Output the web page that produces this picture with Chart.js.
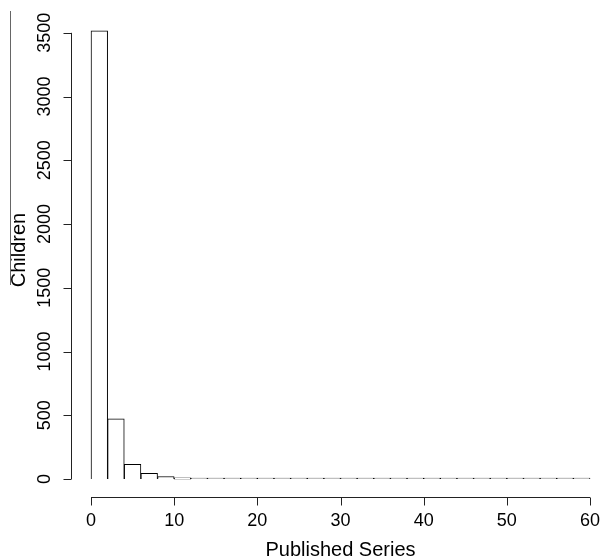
<!DOCTYPE html>
<html>
<head>
<meta charset="utf-8">
<script src="https://cdn.jsdelivr.net/npm/chart.js@4"></script>
<style>
  body { margin: 0; background: #fff; }
  #wrap { width: 603px; height: 559px; }
</style>
</head>
<body>
<div id="wrap"><canvas id="hist-chart" width="603" height="559"></canvas></div>
<script>
// histogram data, bins of width 2 from 0 to 60
const binMids = [1, 3, 5, 7, 9, 11, 13, 15, 17, 19, 21, 23, 25, 27, 29, 31, 33, 35, 37, 39, 41, 43, 45, 47, 49, 51, 53, 55, 57, 59];
const counts = [3515, 473, 115, 45, 20, 10, 6, 5, 2, 2, 4, 1, 1, 4, 1, 1, 5, 1, 1, 1, 1, 1, 1, 1, 1, 1, 3, 1, 1, 1];
const xTicks = [0, 10, 20, 30, 40, 50, 60];
const yTicks = [0, 500, 1000, 1500, 2000, 2500, 3000, 3500];
const xTitle = "Published Series";
const yTitle = "Children";

const fontFam = '"Liberation Sans", Arial, sans-serif';

//R style axes drawn from the chart scales
const rAxes = {
  id: 'rAxes',
  afterDraw(chart) {
    const ctx = chart.ctx;
    const xs = chart.scales.x;
    const ys = chart.scales.y;
    const area = chart.chartArea;
    ctx.save();
    ctx.strokeStyle = '#222';
    ctx.fillStyle = '#000';
    ctx.lineWidth = 1;

    // x axis
    const xa = Math.round(area.bottom) + 0.5;
    ctx.beginPath();
    ctx.moveTo(xs.getPixelForValue(xTicks[0]), xa);
    ctx.lineTo(xs.getPixelForValue(xTicks[xTicks.length - 1]), xa);
    xTicks.forEach(t => {
      const px = Math.round(xs.getPixelForValue(t)) + 0.5;
      ctx.moveTo(px, xa);
      ctx.lineTo(px, xa + 8);
    });
    ctx.stroke();
    ctx.font = '18px ' + fontFam;
    ctx.textAlign = 'center';
    ctx.textBaseline = 'middle';
    xTicks.forEach(t => ctx.fillText(String(t), xs.getPixelForValue(t), 521));

    // y axis
    const ya = Math.round(area.left) + 0.5;
    ctx.beginPath();
    ctx.moveTo(ya, ys.getPixelForValue(yTicks[0]));
    ctx.lineTo(ya, ys.getPixelForValue(yTicks[yTicks.length - 1]));
    yTicks.forEach(t => {
      const py = Math.round(ys.getPixelForValue(t)) + 0.5;
      ctx.moveTo(ya, py);
      ctx.lineTo(ya - 8, py);
    });
    ctx.stroke();
    yTicks.forEach(t => {
      ctx.save();
      ctx.translate(45, ys.getPixelForValue(t));
      ctx.rotate(-Math.PI / 2);
      ctx.fillText(String(t), 0, 0);
      ctx.restore();
    });

    // titles
    ctx.font = '20px ' + fontFam;
    ctx.fillText(xTitle, (xs.getPixelForValue(0) + xs.getPixelForValue(60)) / 2, 550);
    ctx.save();
    ctx.translate(19, 250);
    ctx.rotate(-Math.PI / 2);
    ctx.fillText(yTitle, 0, 0);
    ctx.restore();

    // stray line left of the y title
    ctx.strokeStyle = '#666';
    ctx.beginPath();
    ctx.moveTo(10.5, 11);
    ctx.lineTo(10.5, 285);
    ctx.stroke();
    ctx.restore();
  }
};

const histCanvas = document.getElementById('hist-chart');

let histChart = new Chart(histCanvas, {
  type: 'bar',
  data: {
    datasets: [{
      data: binMids.map((x, i) => ({ x: x, y: counts[i] })),
      backgroundColor: '#fff',
      borderColor: '#000',
      borderWidth: 1,
      barPercentage: 1,
      categoryPercentage: 1,
      minBarLength: 1,
      clip: false
    }]
  },
  options: {
    responsive: false,
    animation: false,
    layout: {
      padding: { left: 71, right: 0, top: 13, bottom: 62 }
    },
    scales: {
      x: {
        type: 'linear',
        display: false,
        offset: false,
        min: -2.405,
        max: 61.56
      },
      y: {
        display: false,
        min: -140.6,
        max: 3655.6
      }
    },
    plugins: {
      legend: { display: false },
      tooltip: { enabled: false }
    }
  },
  plugins: [rAxes]
});
</script>
</body>
</html>
